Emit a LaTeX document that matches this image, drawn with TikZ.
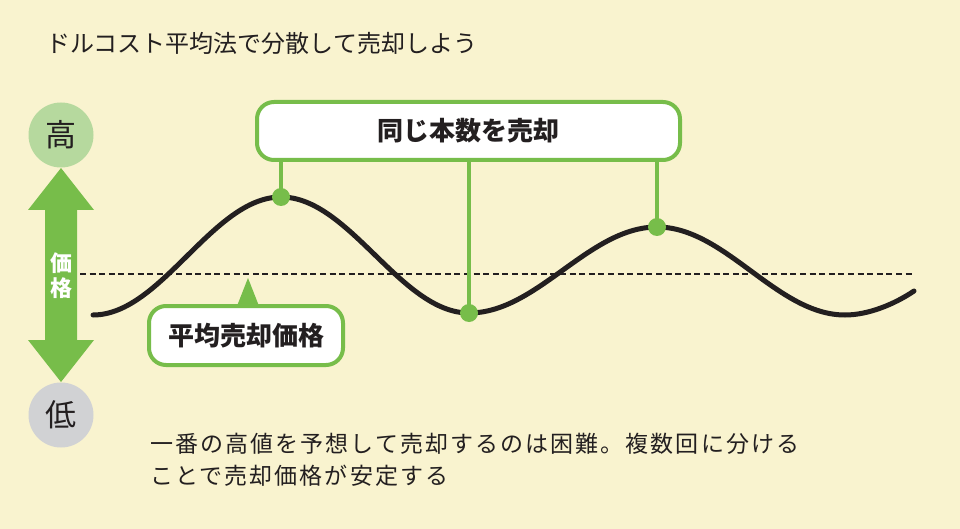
\documentclass[tikz,border=0pt]{standalone}
\usepackage{fontspec}
\newfontfamily\jp{Noto Sans CJK JP}
\newfontfamily\jpsp[LetterSpace=9]{Noto Sans CJK JP}
\definecolor{bg}{HTML}{F9F3CF}
\definecolor{grn}{HTML}{77BD4A}
\definecolor{lgrn}{HTML}{B6D99E}
\definecolor{lgray}{HTML}{D1D2D4}
\definecolor{ink}{HTML}{231F20}
\tikzset{
  callout/.style={draw=grn, line width=4pt, fill=white, rounded corners=17pt, inner sep=0pt},
  dot/.style={circle, fill=grn, minimum size=18pt, inner sep=0pt},
  stem/.style={grn, line width=4pt},
  wave/.style={ink, line width=5pt, line cap=round},
  level/.style={circle, minimum size=65pt, inner sep=0pt, font=\jp\fontsize{31}{31}\selectfont, text=ink},
  txt/.style={inner sep=0pt, text=ink}
}
\begin{document}
\begin{tikzpicture}[x=1pt,y=-1pt]
\fill[bg] (0,0) rectangle (960,529);
\useasboundingbox (0,0) rectangle (960,529);
% title
\node[txt, anchor=west, font=\jp\fontsize{24}{24}\selectfont] (title) at (46,43) {ドルコスト平均法で分散して売却しよう};
% level circles
\node[level, fill=lgrn] (high) at (61,135) {高};
\node[level, fill=lgray] (low) at (61,415) {低};
% double arrow
\fill[grn] (61,168) -- (94,210) -- (77,210) -- (77,340) -- (94,340) -- (61,382) -- (28,340) -- (45,340) -- (45,210) -- (28,210) -- cycle;
\node[inner sep=0pt, text=white, font=\jp\bfseries\fontsize{22}{22}\selectfont] (ka) at (61,263) {価};
\node[inner sep=0pt, text=white, font=\jp\bfseries\fontsize{22}{22}\selectfont] (ku) at (61,288) {格};
% average line
\draw[ink, line width=1.4pt, dash pattern=on 6pt off 3.6pt] (80,274) -- (915,274);
% pointer triangle and average box
\fill[grn] (248,278) -- (259,306) -- (237,306) -- cycle;
\node[callout, minimum width=194pt, minimum height=59pt, font=\jp\bfseries\fontsize{26}{26}\selectfont, text=ink] (avg) at (246,335.5) {平均売却価格};
% wave
\coordinate (w0) at (93,315);
\coordinate (w1) at (281,197);
\coordinate (w2) at (469,313);
\coordinate (w3) at (657,227);
\coordinate (w4) at (845,315);
\coordinate (w5) at (914,291);
\draw[wave] (w0) .. controls (161.3,315) and (212.7,197) .. (w1)
  .. controls (349.3,197) and (400.7,313) .. (w2)
  .. controls (537.3,313) and (588.7,227) .. (w3)
  .. controls (725.3,227) and (776.7,315) .. (w4)
  .. controls (868,315) and (894,304.5) .. (w5);
% same amount box
\node[callout, minimum width=423pt, minimum height=58pt, font=\jp\bfseries\fontsize{26}{26}\selectfont, text=ink] (same) at (468.5,131) {同じ本数を売却};
\node[dot] (p1) at (w1) {};
\node[dot] (p2) at (w2) {};
\node[dot] (p3) at (w3) {};
\draw[stem] (same.south -| p1) -- (p1.center);
\draw[stem] (same.south -| p2) -- (p2.center);
\draw[stem] (same.south -| p3) -- (p3.center);
% note
\node[txt, anchor=west, font=\jpsp\fontsize{23}{23}\selectfont] (note1) at (150,444) {一番の高値を予想して売却するのは困難。複数回に分ける};
\node[txt, anchor=west, font=\jpsp\fontsize{23}{23}\selectfont] (note2) at (150,476) {ことで売却価格が安定する};
\end{tikzpicture}
\end{document}
